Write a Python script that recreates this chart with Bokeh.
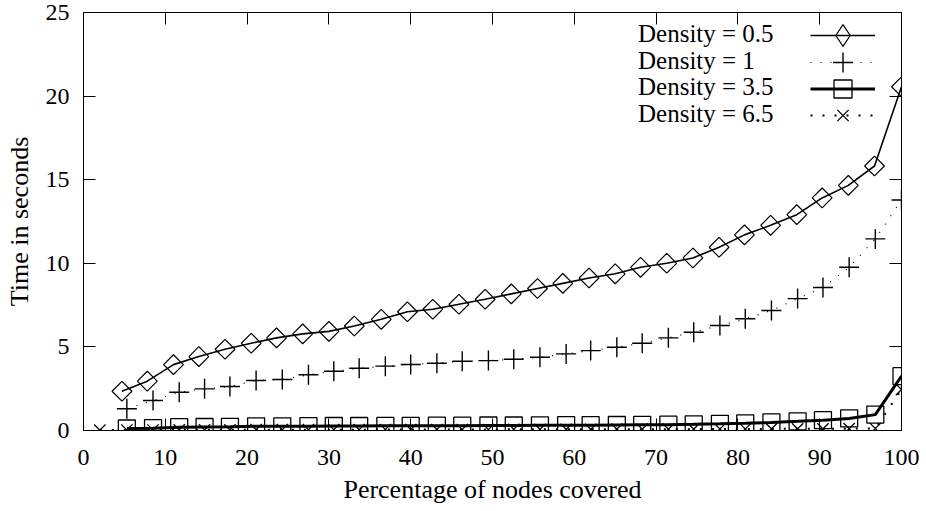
import numpy as np
from bokeh.plotting import figure
from bokeh.models import (LinearAxis, FixedTicker, Legend, LegendItem,
                          CustomJSTickFormatter)
from bokeh.embed import file_html
from bokeh.resources import INLINE

# ---------------- data ----------------
x_ticks = [0, 10, 20, 30, 40, 50, 60, 70, 80, 90, 100]
y_ticks = [0, 5, 10, 15, 20, 25]

density_05_x = [4.7, 7.8, 11.0, 14.1, 17.3, 20.5, 23.6, 26.8, 30.0, 33.1,
                36.4, 39.6, 42.7, 45.9, 49.1, 52.3, 55.5, 58.6, 61.8, 65.0,
                68.1, 71.3, 74.5, 77.7, 80.8, 84.0, 87.2, 90.3, 93.5, 96.7, 100.0]
density_05_y = [2.35, 2.95, 3.94, 4.42, 4.86, 5.22, 5.54, 5.78, 5.93, 6.25,
                6.65, 7.10, 7.25, 7.55, 7.85, 8.17, 8.49, 8.80, 9.12, 9.37,
                9.76, 10.0, 10.32, 10.96, 11.70, 12.27, 12.91, 13.91, 14.66, 15.82, 20.56]

covered_x = [5.3, 8.5, 11.7, 14.8, 17.9, 21.1, 24.3, 27.5, 30.6, 33.7,
             36.9, 40.0, 43.2, 46.3, 49.5, 52.6, 55.8, 59.0, 62.0, 65.2,
             68.3, 71.5, 74.6, 77.8, 80.9, 84.1, 87.3, 90.4, 93.6, 96.8, 100.0]
density_1_y = [1.30, 1.79, 2.29, 2.49, 2.63, 2.99, 3.05, 3.33, 3.54, 3.72,
               3.85, 3.95, 4.02, 4.14, 4.18, 4.26, 4.38, 4.58, 4.78, 4.98,
               5.22, 5.54, 5.88, 6.28, 6.68, 7.18, 7.89, 8.55, 9.76, 11.46, 13.79]
density_35_y = [0.12, 0.14, 0.20, 0.21, 0.22, 0.25, 0.25, 0.26, 0.27, 0.27,
                0.28, 0.28, 0.29, 0.29, 0.30, 0.30, 0.31, 0.32, 0.32, 0.33,
                0.34, 0.35, 0.37, 0.40, 0.43, 0.48, 0.55, 0.62, 0.72, 0.95, 3.25]

density_65_x = [2.0, 5.3, 8.5, 11.7, 14.8, 17.9, 21.1, 24.3, 27.5, 30.6, 33.7,
                36.9, 40.0, 43.2, 46.3, 49.5, 52.6, 55.8, 59.0, 62.0, 65.2,
                68.3, 71.5, 74.6, 77.8, 80.9, 84.1, 87.3, 90.4, 93.6, 96.8, 100.0]
density_65_y = [0.02, 0.03, 0.03, 0.04, 0.04, 0.04, 0.05, 0.05, 0.05, 0.05,
                0.05, 0.06, 0.06, 0.06, 0.06, 0.06, 0.07, 0.07, 0.07, 0.07,
                0.08, 0.08, 0.08, 0.08, 0.09, 0.09, 0.10, 0.10, 0.10, 0.11, 0.12, 2.45]

series_labels = ["Density = 0.5", "Density = 1", "Density = 3.5", "Density = 6.5"]

FONT = "Liberation Serif"

# ---------------- figure ----------------
W, H = 926, 511
BL, BR, BT, BB = 83, 25, 12, 81
p = figure(width=W, height=H, x_range=(0, 100), y_range=(0, 25),
           output_backend="svg", toolbar_location=None,
           min_border_left=BL, min_border_right=BR,
           min_border_top=BT, min_border_bottom=BB,
           background_fill_color="white", border_fill_color="white")
p.xgrid.visible = False
p.ygrid.visible = False
p.outline_line_color = "black"
p.outline_line_width = 1

for ax, ticks in ((p.xaxis[0], x_ticks), (p.yaxis[0], y_ticks)):
    ax.ticker = FixedTicker(ticks=ticks)
    ax.major_tick_in = 12
    ax.major_tick_out = 0
    ax.minor_tick_line_color = None
    ax.axis_line_color = "black"
    ax.major_tick_line_color = "black"
    ax.major_label_text_font = FONT
    ax.major_label_text_font_size = "24px"
    ax.major_label_text_color = "black"
    ax.axis_label_text_font = FONT
    ax.axis_label_text_font_size = "26px"
    ax.axis_label_text_font_style = "normal"
    ax.axis_label_text_color = "black"

p.xaxis.axis_label = "Percentage of nodes covered"
p.yaxis.axis_label = "Time in seconds"
p.xaxis.major_label_standoff = 19
p.xaxis.axis_label_standoff = 7
p.yaxis.major_label_standoff = 14
p.yaxis.axis_label_standoff = 9

# mirrored ticks on top and right
blank = CustomJSTickFormatter(code="return ''")
top_ax = LinearAxis(ticker=FixedTicker(ticks=x_ticks), formatter=blank,
                    major_tick_in=12, major_tick_out=0, minor_tick_line_color=None,
                    major_label_text_font_size="0px", major_label_standoff=0,
                    axis_line_color="black", major_tick_line_color="black")
right_ax = LinearAxis(ticker=FixedTicker(ticks=y_ticks), formatter=blank,
                      major_tick_in=12, major_tick_out=0, minor_tick_line_color=None,
                      major_label_text_font_size="0px", major_label_standoff=0,
                      axis_line_color="black", major_tick_line_color="black")
p.add_layout(top_ax, "above")
p.add_layout(right_ax, "right")

# ---------------- series ----------------
l05 = p.line(density_05_x, density_05_y, line_color="black", line_width=1.6)
s05 = p.scatter(density_05_x, density_05_y, marker="square", angle=np.pi / 4,
                size=14, fill_color=None, line_color="black", line_width=1.2)
# legend-only sample: the legend does not rotate markers, so a diamond marker of
# size 0 is used (invisible in the plot; the legend sizes its sample itself)
s05_key = p.scatter(density_05_x, density_05_y, marker="diamond", size=0,
                    fill_color=None, line_color="black", line_width=1.2)

l1 = p.line(covered_x, density_1_y, line_color="black", line_width=1.2,
            line_dash="1 9")
s1 = p.scatter(covered_x, density_1_y, marker="cross", size=20,
               line_color="black", line_width=1.4)

l35 = p.line(covered_x, density_35_y, line_color="black", line_width=3)
s35 = p.scatter(covered_x, density_35_y, marker="square", size=17,
                fill_color=None, line_color="black", line_width=1.3)

l65 = p.line(density_65_x, density_65_y, line_color="black", line_width=2,
             line_dash="2 10")
s65 = p.scatter(density_65_x, density_65_y, marker="x", size=16,
                line_color="black", line_width=1.3)

renderer_pairs = [[l05, s05_key], [l1, s1], [l35, s35], [l65, s65]]

# ---------------- legend: one text legend + one sample legend per row ----------------
frame_bottom = H - BB            # screen y of the frame bottom
row_top_center = 35              # screen y of the first legend row centre
row_pitch = 26.7
text_left = 638 - BL             # offsets from the frame's left edge
sample_left = 810 - BL
sample_glyph_heights = [54, 50, 45, 40]   # legend marker size is 0.4 x this
TEXT_BOX = 26

for k, (lab, rs) in enumerate(zip(series_labels, renderer_pairs)):
    cy = row_top_center + k * row_pitch
    gh = sample_glyph_heights[k]
    lt = Legend(items=[LegendItem(label=lab, renderers=rs)],
                location=(text_left, int(round(frame_bottom - cy - TEXT_BOX / 2))),
                glyph_width=0, glyph_height=TEXT_BOX, label_height=TEXT_BOX,
                label_standoff=0, padding=0, margin=0, border_line_color=None,
                background_fill_alpha=0, label_text_font=FONT,
                label_text_font_size="25px", label_text_color="black")
    ls = Legend(items=[LegendItem(label=" ", renderers=rs)],
                location=(sample_left, int(round(frame_bottom - cy - gh / 2))),
                glyph_width=65, glyph_height=gh, label_standoff=0,
                padding=0, margin=0, border_line_color=None,
                background_fill_alpha=0, label_text_font=FONT,
                label_text_font_size="10px")
    p.add_layout(lt)
    p.add_layout(ls)

open("out.html", "w").write(file_html(p, INLINE))
